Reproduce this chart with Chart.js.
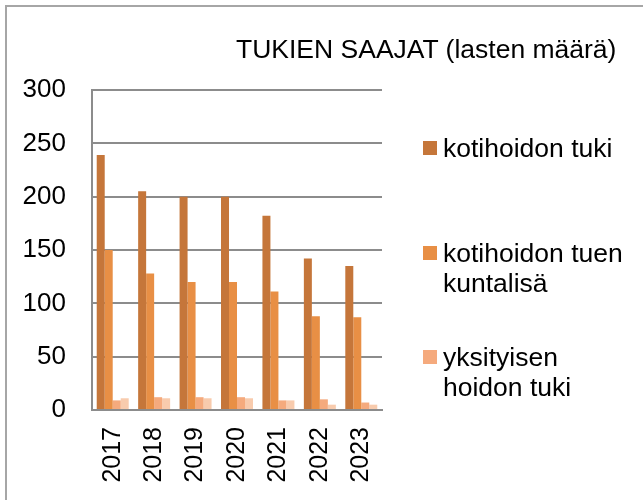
<!DOCTYPE html>
<html>
<head>
<meta charset="utf-8">
<script src="https://cdn.jsdelivr.net/npm/chart.js@4.4.1/dist/chart.umd.min.js"></script>
<style>
  body { margin: 0; background: #fff; font-family: 'Liberation Sans', Arial, sans-serif; }
  #wrap { position: relative; width: 643px; height: 500px; overflow: hidden; }
  #frame { position: absolute; left: 5px; top: 5px; width: 700px; height: 600px;
    border-left: 2px solid #a6a6a6; border-top: 2px solid #a6a6a6; }
  #title { position: absolute; left: 236px; top: 36px; font-size: 26.5px; line-height: 26px; color: #000; white-space: nowrap; }
  .item { position: absolute; left: 423px; width: 215px; font-size: 26.5px; line-height: 30px; color: #000; }
  .item .box { position: absolute; left: 0; top: 8px; width: 14px; height: 14px; }
  .item .txt { position: absolute; left: 20px; top: 0; width: 192px; }
  canvas { position: absolute; left: 0; top: 0; }
</style>
</head>
<body>
<div id="wrap">
  <div id="frame"></div>
  <canvas id="myChart" width="643" height="500"></canvas>
  <div id="title">TUKIEN SAAJAT (lasten määrä)</div>
  <div id="legend"></div>
</div>
<script>
const years = ['2017', '2018', '2019', '2020', '2021', '2022', '2023']
const kotihoidonTuki = [239, 205, 200, 200, 182, 142, 135]
const kuntalisa = [150, 128, 120, 120, 111, 88, 87]
const yksityisenTuki = [9, 12, 12, 12, 9, 10, 7]
const yksityisenLisa = [11, 11, 11, 11, 9, 5, 5]
const seriesLabels = ['kotihoidon tuki', 'kotihoidon tuen kuntalisä', 'yksityisen hoidon tuki', 'yksityisen hoidon tuen kuntalisä']
const seriesColors = ['#c5763a', '#e88f45', '#f5aa7d', '#f8cbad']
const yTicks = [0, 50, 100, 150, 200, 250, 300]

// legend tops (only first three entries are visible in the picture)
const legendTops = [133, 238, 342]

const fontFamily = "'Liberation Sans', Arial, sans-serif"

new Chart('myChart', {
  type: 'bar',
  data: {
    labels: years,
    datasets: [kotihoidonTuki, kuntalisa, yksityisenTuki, yksityisenLisa].map((d, i) => ({
      label: seriesLabels[i],
      data: d,
      backgroundColor: seriesColors[i],
      borderWidth: 0,
      categoryPercentage: 0.772,
      barPercentage: 1
    }))
  },
  options: {
    responsive: false,
    animation: false,
    layout: { padding: { top: 90, right: 261, left: 0, bottom: 0 } },
    plugins: { legend: { display: false }, title: { display: false }, tooltip: { enabled: false } },
    scales: {
      x: {
        grid: { display: false, drawTicks: false },
        border: { color: '#8c8c8c', width: 2 },
        ticks: { font: { family: fontFamily, size: 25 }, color: '#000', minRotation: 90, maxRotation: 90, autoSkip: false, padding: 17 },
        afterFit: (s) => { s.height = 90 }
      },
      y: {
        min: 0,
        max: 300,
        afterBuildTicks: (s) => { s.ticks = yTicks.map(v => ({ value: v })) },
        grid: { color: '#8c8c8c', lineWidth: 2, drawTicks: false },
        border: { color: '#8c8c8c', width: 2 },
        ticks: { font: { family: fontFamily, size: 26 }, color: '#000', padding: 26 },
        afterFit: (s) => { s.width = 92 }
      }
    }
  }
})

const legend = document.getElementById('legend')
legendTops.forEach((top, i) => {
  const item = document.createElement('div')
  item.className = 'item'
  item.style.top = top + 'px'
  item.innerHTML = '<div class="box" style="background:' + seriesColors[i] + '"></div><div class="txt">' + seriesLabels[i] + '</div>'
  legend.appendChild(item)
})
</script>
</body>
</html>
